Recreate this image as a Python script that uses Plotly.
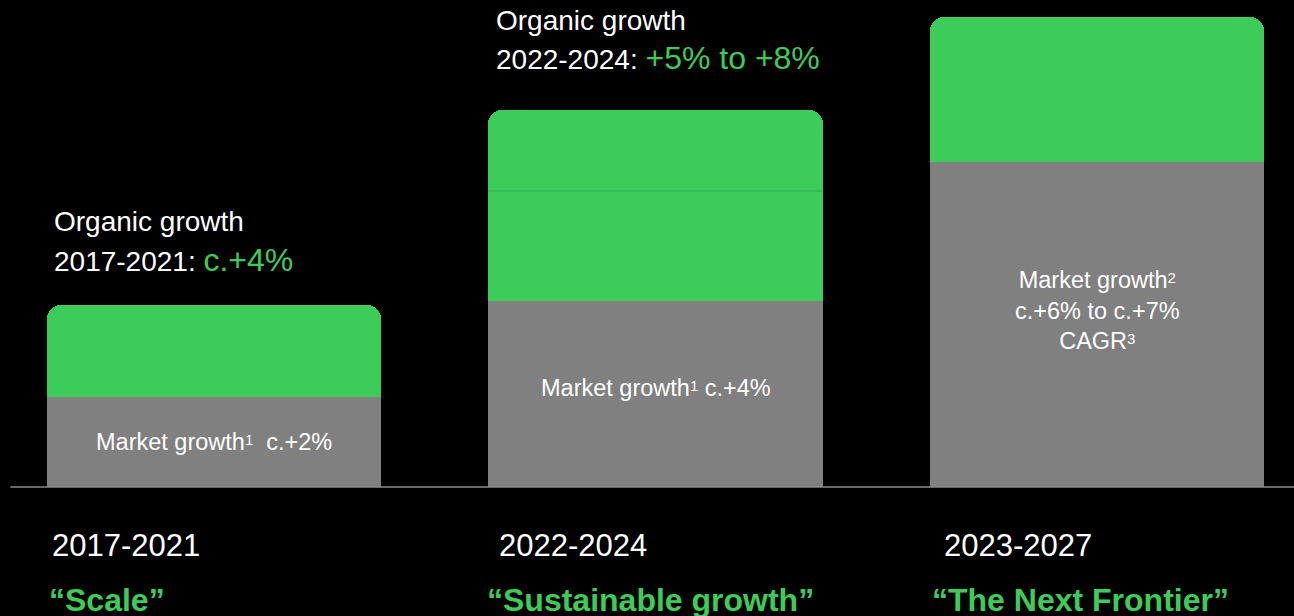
import plotly.graph_objects as go

# ---------------- data ----------------
categories = ["2017-2021", "2022-2024", "2023-2027"]
phase_names = ["“Scale”", "“Sustainable growth”", "“The Next Frontier”"]
market_growth = [90, 186, 325]          # grey segment (relative height)
organic_growth = [92, 110, 145]         # green segment
organic_growth_upper = [None, 81, None]  # upper green band (2022-2024 range)
SUP = "<span style='font-size:15px;baseline-shift:5px'>{}</span>"
market_labels = [
    "Market growth" + SUP.format("1") + "  c.+2%",
    "Market growth" + SUP.format("1") + " c.+4%",
    "Market growth" + SUP.format("2") + "<br>c.+6% to c.+7%<br>CAGR" + SUP.format("3"),
]
organic_periods = ["2017-2021", "2022-2024", None]
organic_ranges = ["c.+4%", "+5% to +8%", None]

# ---------------- style / layout ----------------
GREEN = "#3DCC5A"
GRAY = "#808080"
FONT = "Liberation Sans, Arial, sans-serif"
W, H = 1294, 616
BAR_W = 0.757
X_RANGE = [-0.4847, -0.4847 + W / 441.5]
Y_RANGE = [-129, 487]
org_label_xshift = [5, 6]
org_line1_gap = [84, 90]
org_line2_gap = [45, 52]
market_label_yshift = [0, 6, 14]
year_xshift = [3, 9, 12]
phase_xshift = [0, -3, 0]
YEAR_Y = -58
PHASE_Y = -113

xs = list(range(len(categories)))

fig = go.Figure()
fig.add_trace(go.Bar(x=xs, y=market_growth, width=BAR_W, marker=dict(color=GRAY, line=dict(width=0)),
                     name="Market growth", hoverinfo="skip"))
fig.add_trace(go.Bar(x=xs, y=organic_growth, width=BAR_W, marker=dict(color=GREEN, line=dict(width=0)),
                     name="Organic growth", hoverinfo="skip"))
fig.add_trace(go.Bar(x=xs, y=organic_growth_upper, width=BAR_W, marker=dict(color=GREEN, line=dict(width=0)),
                     name="Organic growth (upper)", hoverinfo="skip"))

annotations = []
for i, x in enumerate(xs):
    total = market_growth[i] + organic_growth[i] + (organic_growth_upper[i] or 0)
    # market label
    annotations.append(dict(x=x, y=market_growth[i] / 2, xref="x", yref="y", text=market_labels[i],
                            showarrow=False, yshift=market_label_yshift[i],
                            font=dict(family=FONT, size=23.5, color="white")))
    # organic label above bar (two lines)
    if organic_periods[i]:
        annotations.append(dict(
            x=x - BAR_W / 2, y=total + org_line1_gap[i], xref="x", yref="y", xanchor="left", yanchor="middle",
            xshift=org_label_xshift[i], align="left", showarrow=False, text="Organic growth",
            font=dict(family=FONT, size=28, color="white")))
        annotations.append(dict(
            x=x - BAR_W / 2, y=total + org_line2_gap[i], xref="x", yref="y", xanchor="left", yanchor="middle",
            xshift=org_label_xshift[i], align="left", showarrow=False,
            text=f"{organic_periods[i]}: <span style='color:{GREEN};font-size:32px'>{organic_ranges[i]}</span>",
            font=dict(family=FONT, size=28, color="white")))
    # period label
    annotations.append(dict(x=x - BAR_W / 2, y=YEAR_Y, xref="x", yref="y", xanchor="left", yanchor="middle",
                            xshift=year_xshift[i], showarrow=False, text=categories[i],
                            font=dict(family=FONT, size=31, color="white")))
    # phase label
    annotations.append(dict(x=x - BAR_W / 2, y=PHASE_Y, xref="x", yref="y", xanchor="left", yanchor="middle",
                            xshift=phase_xshift[i], showarrow=False, text=f"<b>{phase_names[i]}</b>",
                            font=dict(family=FONT, size=32, color=GREEN)))

shapes = [dict(type="line", xref="paper", yref="y", x0=0.008, x1=1, y0=0, y1=0,
               line=dict(color="#8a8a8a", width=1.5), layer="above")]
# faint divider inside the 2022-2024 green band
for i, x in enumerate(xs):
    if organic_growth_upper[i]:
        yv = market_growth[i] + organic_growth[i]
        shapes.append(dict(type="line", xref="x", yref="y", x0=x - BAR_W / 2, x1=x + BAR_W / 2,
                           y0=yv, y1=yv, line=dict(color="#35AD4F", width=1), layer="above"))

fig.update_layout(
    width=W, height=H, barmode="stack", barcornerradius=14, bargap=0,
    paper_bgcolor="#000000", plot_bgcolor="#000000",
    margin=dict(l=0, r=0, t=0, b=0), showlegend=False,
    xaxis=dict(range=X_RANGE, visible=False, fixedrange=True),
    yaxis=dict(range=Y_RANGE, visible=False, fixedrange=True),
    annotations=annotations, shapes=shapes, hovermode=False,
)

fig.write_html("out.html", config={"displayModeBar": False},
               post_script="document.body.style.margin='0';document.body.style.background='#000';"
                           "document.body.style.overflow='hidden';")
